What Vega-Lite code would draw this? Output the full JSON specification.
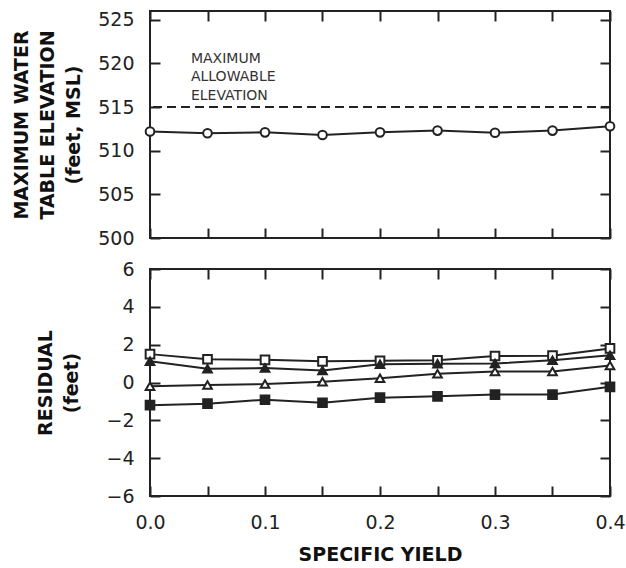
{
  "$schema": "https://vega.github.io/schema/vega-lite/v6.json",
  "padding": {"left": 11, "top": 9, "right": 0, "bottom": 0},
  "spacing": 10,
  "background": "white",
  "config": {
    "view": {"stroke": "#222", "strokeWidth": 2},
    "axis": {
      "domain": false,
      "grid": false,
      "tickColor": "#222",
      "tickWidth": 2,
      "tickSize": 10,
      "offset": -10,
      "labelFlush": false,
      "labelFont": "DejaVu Sans",
      "labelFontSize": 19,
      "labelColor": "#222",
      "labelPadding": 16,
      "titleFont": "DejaVu Sans",
      "titleFontWeight": "bold",
      "titleFontSize": 19,
      "titleColor": "#111",
      "titleLineHeight": 26
    }
  },
  "datasets": {
    "elev": [
      {"sy": 0.0, "elev": 512.2},
      {"sy": 0.05, "elev": 512.0},
      {"sy": 0.1, "elev": 512.1},
      {"sy": 0.15, "elev": 511.8},
      {"sy": 0.2, "elev": 512.1},
      {"sy": 0.25, "elev": 512.3},
      {"sy": 0.3, "elev": 512.05},
      {"sy": 0.35, "elev": 512.3},
      {"sy": 0.4, "elev": 512.8}
    ],
    "limit": [
      {"limit": 515}
    ],
    "note": [
      {"sy": 0.0356, "elev": 520.5, "label": "MAXIMUM"},
      {"sy": 0.0356, "elev": 518.4, "label": "ALLOWABLE"},
      {"sy": 0.0356, "elev": 516.25, "label": "ELEVATION"}
    ],
    "resid": [
      {"sy": 0.0, "series": "A", "value": 1.5},
      {"sy": 0.05, "series": "A", "value": 1.23},
      {"sy": 0.1, "series": "A", "value": 1.2},
      {"sy": 0.15, "series": "A", "value": 1.12},
      {"sy": 0.2, "series": "A", "value": 1.15},
      {"sy": 0.25, "series": "A", "value": 1.17},
      {"sy": 0.3, "series": "A", "value": 1.4},
      {"sy": 0.35, "series": "A", "value": 1.42},
      {"sy": 0.4, "series": "A", "value": 1.8},
      {"sy": 0.0, "series": "B", "value": 1.12},
      {"sy": 0.05, "series": "B", "value": 0.73},
      {"sy": 0.1, "series": "B", "value": 0.76},
      {"sy": 0.15, "series": "B", "value": 0.64},
      {"sy": 0.2, "series": "B", "value": 0.96},
      {"sy": 0.25, "series": "B", "value": 0.99},
      {"sy": 0.3, "series": "B", "value": 1.0},
      {"sy": 0.35, "series": "B", "value": 1.17},
      {"sy": 0.4, "series": "B", "value": 1.44},
      {"sy": 0.0, "series": "C", "value": -0.2},
      {"sy": 0.05, "series": "C", "value": -0.13},
      {"sy": 0.1, "series": "C", "value": -0.08},
      {"sy": 0.15, "series": "C", "value": 0.04},
      {"sy": 0.2, "series": "C", "value": 0.22},
      {"sy": 0.25, "series": "C", "value": 0.46},
      {"sy": 0.3, "series": "C", "value": 0.58},
      {"sy": 0.35, "series": "C", "value": 0.58},
      {"sy": 0.4, "series": "C", "value": 0.9},
      {"sy": 0.0, "series": "D", "value": -1.2},
      {"sy": 0.05, "series": "D", "value": -1.12},
      {"sy": 0.1, "series": "D", "value": -0.91},
      {"sy": 0.15, "series": "D", "value": -1.07},
      {"sy": 0.2, "series": "D", "value": -0.8},
      {"sy": 0.25, "series": "D", "value": -0.73},
      {"sy": 0.3, "series": "D", "value": -0.64},
      {"sy": 0.35, "series": "D", "value": -0.64},
      {"sy": 0.4, "series": "D", "value": -0.23}
    ]
  },
  "vconcat": [
    {
      "width": 460,
      "height": 227,
      "resolve": {"axis": {"x": "independent", "y": "independent"}},
      "layer": [
        {
          "data": {"name": "elev"},
          "mark": {"type": "line", "color": "#222", "strokeWidth": 2},
          "encoding": {
            "x": {"field": "sy", "type": "quantitative", "scale": {"domain": [0, 0.4]},
              "axis": {"orient": "bottom", "values": [0, 0.05, 0.1, 0.15, 0.2, 0.25, 0.3, 0.35, 0.4], "labels": false, "title": null}},
            "y": {"field": "elev", "type": "quantitative", "scale": {"domain": [500, 525]},
              "axis": {"orient": "left", "values": [500, 505, 510, 515, 520, 525], "title": ["MAXIMUM WATER", "TABLE ELEVATION", "(feet, MSL)"], "titlePadding": 14}}
          }
        },
        {
          "data": {"name": "limit"},
          "mark": {"type": "rule", "color": "#222", "strokeWidth": 2, "strokeDash": [9, 5]},
          "encoding": {"y": {"field": "limit", "type": "quantitative", "axis": null}}
        },
        {
          "data": {"name": "elev"},
          "mark": {"type": "point", "shape": "circle", "filled": true, "fill": "white", "stroke": "#222", "strokeWidth": 2, "size": 75, "opacity": 1},
          "encoding": {
            "x": {"field": "sy", "type": "quantitative",
              "axis": {"orient": "top", "values": [0, 0.05, 0.1, 0.15, 0.2, 0.25, 0.3, 0.35, 0.4], "labels": false, "title": null}},
            "y": {"field": "elev", "type": "quantitative",
              "axis": {"orient": "right", "values": [500, 505, 510, 515, 520, 525], "labels": false, "title": null}}
          }
        },
        {
          "data": {"name": "note"},
          "mark": {"type": "text", "align": "left", "baseline": "middle", "font": "DejaVu Sans", "fontSize": 14, "color": "#333"},
          "encoding": {
            "x": {"field": "sy", "type": "quantitative", "axis": null},
            "y": {"field": "elev", "type": "quantitative", "axis": null},
            "text": {"field": "label"}
          }
        }
      ]
    },
    {
      "width": 460,
      "height": 227,
      "data": {"name": "resid"},
      "resolve": {"axis": {"x": "independent", "y": "independent"}},
      "layer": [
        {
          "mark": {"type": "line", "color": "#222", "strokeWidth": 2},
          "encoding": {
            "x": {"field": "sy", "type": "quantitative", "scale": {"domain": [0, 0.4]},
              "axis": {"orient": "bottom", "values": [0, 0.05, 0.1, 0.15, 0.2, 0.25, 0.3, 0.35, 0.4],
                "labelExpr": "abs(datum.value * 10 - round(datum.value * 10)) < 0.001 ? format(datum.value, '.1f') : ''",
                "labelPadding": 17, "title": "SPECIFIC YIELD", "titlePadding": 13}},
            "y": {"field": "value", "type": "quantitative", "scale": {"domain": [-6, 6]},
              "axis": {"orient": "left", "values": [-6, -4, -2, 0, 2, 4, 6], "title": ["RESIDUAL", "(feet)"], "titlePadding": 24}},
            "detail": {"field": "series"}
          }
        },
        {
          "mark": {"type": "point", "filled": true, "stroke": "#222", "strokeWidth": 2, "size": 75, "opacity": 1},
          "encoding": {
            "x": {"field": "sy", "type": "quantitative",
              "axis": {"orient": "top", "values": [0, 0.05, 0.1, 0.15, 0.2, 0.25, 0.3, 0.35, 0.4], "labels": false, "title": null}},
            "y": {"field": "value", "type": "quantitative",
              "axis": {"orient": "right", "values": [-6, -4, -2, 0, 2, 4, 6], "labels": false, "title": null}},
            "shape": {"field": "series", "type": "nominal", "legend": null,
              "scale": {"domain": ["A", "B", "C", "D"], "range": ["square", "triangle-up", "triangle-up", "square"]}},
            "fill": {"field": "series", "type": "nominal", "legend": null,
              "scale": {"domain": ["A", "B", "C", "D"], "range": ["white", "#222", "white", "#222"]}}
          }
        }
      ]
    }
  ]
}
